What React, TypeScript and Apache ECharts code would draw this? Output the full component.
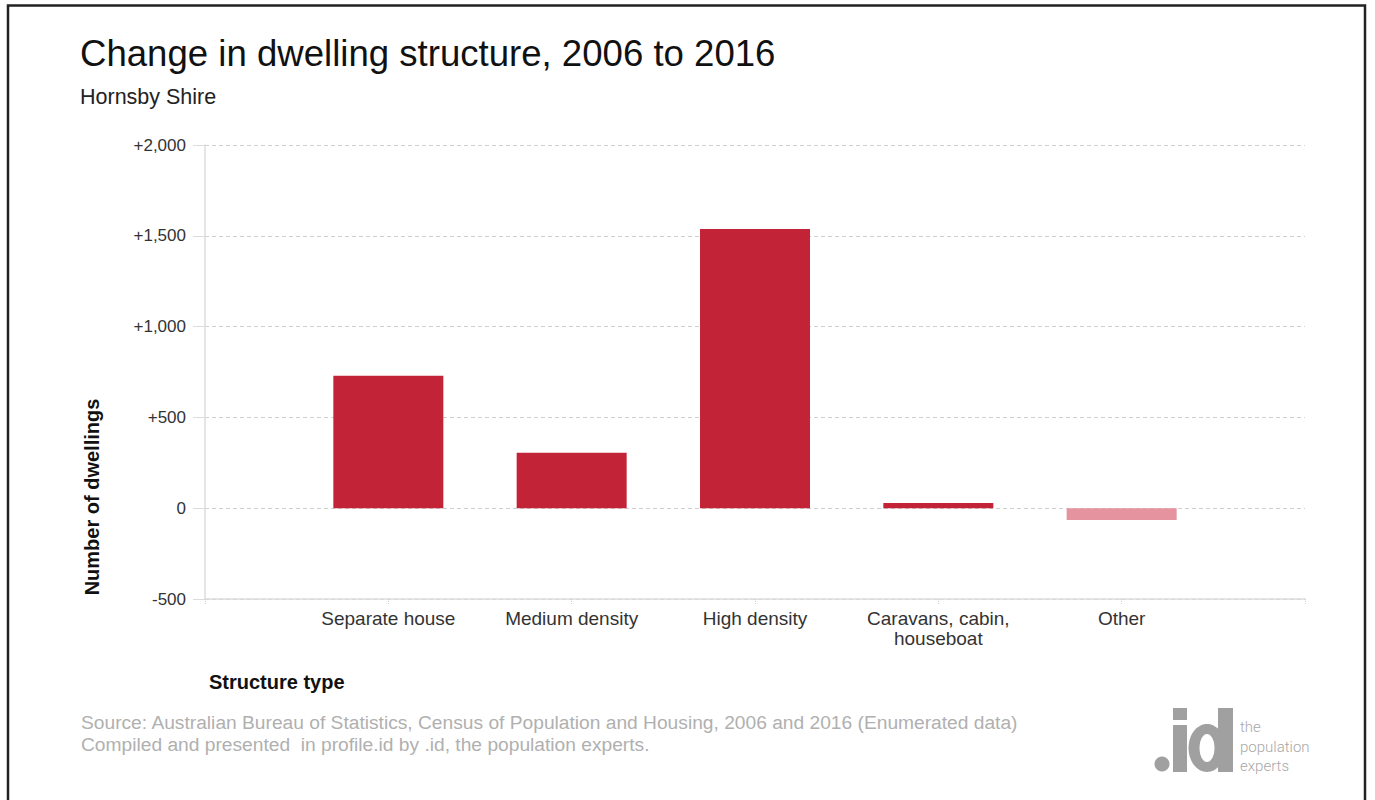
import React, { useEffect, useRef } from "react";
import * as echarts from "echarts";

const categories = ["Separate house", "Medium density", "High density", "Caravans, cabin,\nhouseboat", "Other"];
const changeValues = [730, 305, 1537, 29, -65];
const yTicks = { min: -500, max: 2000, interval: 500 };

const titleText = "Change in dwelling structure, 2006 to 2016";
const subtitleText = "Hornsby Shire";
const yAxisTitle = "Number of dwellings";
const xAxisTitle = "Structure type";
const sourceLines = [
  "Source: Australian Bureau of Statistics, Census of Population and Housing, 2006 and 2016 (Enumerated data)",
  "Compiled and presented  in profile.id by .id, the population experts.",
];
const logoWords = ["the", "population", "experts"];

const FONT = "'Liberation Sans', Arial, sans-serif";
const RED = "#c32337";
const PINK = "#e5939f";
const LOGO = "#a0a0a0";

export default function App() {
  const ref = useRef<HTMLDivElement>(null);
  useEffect(() => {
    if (!ref.current) return;
    const chart = echarts.init(ref.current, null, { renderer: "svg" });
    const axisData = ["", ...categories, ""];
    const seriesData = [null, ...changeValues, null];
    chart.setOption({
      animation: false,
      backgroundColor: "#ffffff",
      textStyle: { fontFamily: FONT },
      grid: { left: 205, right: 70, top: 145, bottom: 201, containLabel: false },
      xAxis: {
        type: "category",
        data: axisData,
        boundaryGap: false,
        axisLine: { show: true, onZero: false, lineStyle: { color: "#dcdcdc", width: 1.5 } },
        axisTick: { show: true, length: 6, interval: 0, lineStyle: { color: "#d0d0d0", type: "dotted" } },
        axisLabel: { interval: 0, margin: 9, color: "#333", fontSize: 19, fontFamily: FONT, lineHeight: 20 },
        splitLine: { show: false },
      },
      yAxis: {
        type: "value",
        min: yTicks.min,
        max: yTicks.max,
        interval: yTicks.interval,
        axisLine: { show: true, lineStyle: { color: "#dcdcdc", width: 1.5 } },
        axisTick: { show: true, length: 12, lineStyle: { color: "#dcdcdc" } },
        axisLabel: {
          margin: 19,
          color: "#333",
          fontSize: 17,
          fontFamily: FONT,
          formatter: (v: number) => (v > 0 ? "+" : "") + v.toLocaleString("en-US"),
        },
        splitLine: { show: true, lineStyle: { color: "#cfcfcf", type: [4, 3], width: 1 } },
      },
      series: [
        {
          type: "bar",
          data: seriesData,
          barWidth: 110,
          itemStyle: {
            color: (p: any) => (p.value < 0 ? PINK : RED),
          },
        },
      ],
      graphic: [
        {
          type: "rect",
          shape: { x: 8, y: 5.5, width: 1357, height: 810 },
          style: { fill: "none", stroke: "#222", lineWidth: 2.5 },
          silent: true,
        },
        {
          type: "text",
          x: 80,
          y: 53,
          style: { text: titleText, font: `36.6px ${FONT}`, fill: "#111", textVerticalAlign: "middle" },
        },
        {
          type: "text",
          x: 80,
          y: 97,
          style: { text: subtitleText, font: `21.5px ${FONT}`, fill: "#222", textVerticalAlign: "middle" },
        },
        {
          type: "text",
          x: 92,
          y: 497,
          rotation: Math.PI / 2,
          style: {
            text: yAxisTitle,
            font: `bold 20px ${FONT}`,
            fill: "#111",
            textAlign: "center",
            textVerticalAlign: "middle",
          },
        },
        {
          type: "text",
          x: 209,
          y: 682,
          style: { text: xAxisTitle, font: `bold 20px ${FONT}`, fill: "#111", textVerticalAlign: "middle" },
        },
        {
          type: "text",
          x: 81,
          y: 722,
          style: { text: sourceLines[0], font: `19.2px ${FONT}`, fill: "#b0b0b0", textVerticalAlign: "middle" },
        },
        {
          type: "text",
          x: 81,
          y: 744,
          style: { text: sourceLines[1], font: `19.2px ${FONT}`, fill: "#b0b0b0", textVerticalAlign: "middle" },
        },
        // .id logo
        { type: "circle", shape: { cx: 1162, cy: 764, r: 7.5 }, style: { fill: LOGO } },
        { type: "rect", shape: { x: 1173, y: 725, width: 14, height: 47 }, style: { fill: LOGO } },
        { type: "rect", shape: { x: 1173, y: 708, width: 14, height: 12 }, style: { fill: LOGO } },
        { type: "ellipse", shape: { cx: 1207, cy: 748, rx: 18.5, ry: 24 }, style: { fill: LOGO } },
        { type: "ellipse", shape: { cx: 1207, cy: 748, rx: 7.5, ry: 14 }, style: { fill: "#fff" } },
        { type: "rect", shape: { x: 1218, y: 708, width: 15, height: 64 }, style: { fill: LOGO } },
        ...logoWords.map((w, i) => ({
          type: "text",
          x: 1240,
          y: 727 + i * 19.5,
          style: { text: w, font: `300 15px Roboto, sans-serif`, fill: "#a8a8a8", textVerticalAlign: "middle" },
        })),
      ],
    });
    return () => chart.dispose();
  }, []);
  return (
    <div
      ref={ref}
      style={{ position: "absolute", left: 0, top: 0, width: 1375, height: 800 }}
    />
  );
}
